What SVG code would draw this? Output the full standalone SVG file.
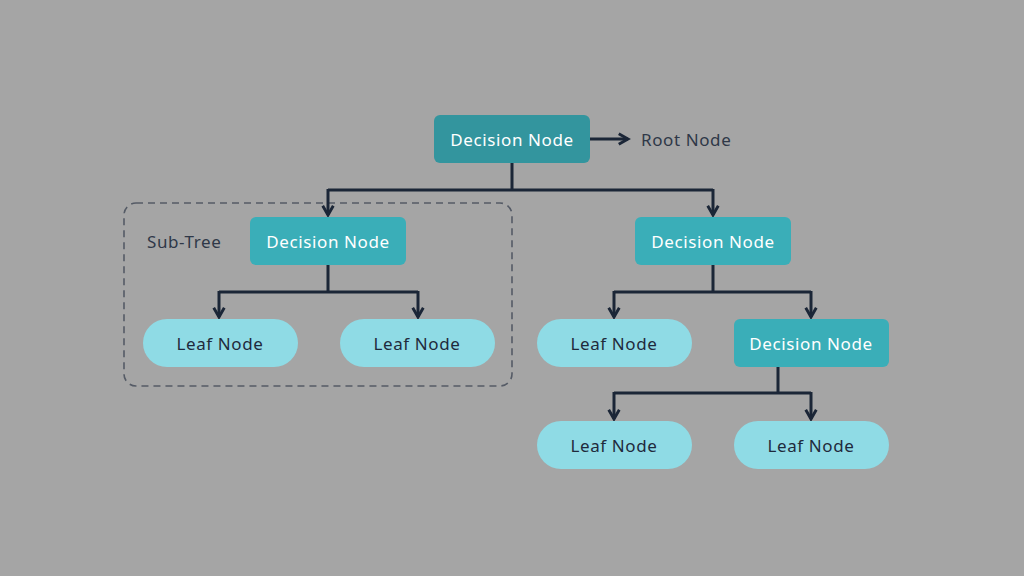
<svg xmlns="http://www.w3.org/2000/svg" width="1024" height="576" viewBox="0 0 1024 576">
<defs>
<style>
.bg{fill:#a5a5a5}
.dec{fill:#3aaeb8}
.root{fill:#33959e}
.leaf{fill:#8fdbe5}
.t{font-family:"Noto Sans","Lato",sans-serif;font-size:17px;letter-spacing:0.6px;text-anchor:middle;dominant-baseline:central}
.tw{fill:#ffffff}
.td{fill:#1f2a3c}
.lbl{font-family:"Noto Sans","Lato",sans-serif;font-size:17px;letter-spacing:0.6px;fill:#2f3848;dominant-baseline:central}
.conn{fill:none;stroke:#1b2637;stroke-width:3}
</style>
<marker id="ah" viewBox="0 0 10 10" refX="8" refY="5" markerWidth="4.4" markerHeight="4.4" orient="auto" markerUnits="strokeWidth">
<path d="M1,1 L8,5 L1,9" fill="none" stroke="#1b2637" stroke-width="2.2"/>
</marker>
</defs>
<rect class="bg" x="0" y="0" width="1024" height="576"/>
<g id="subtree">
<rect x="124" y="203" width="388" height="183" rx="12" fill="none" stroke="#555b66" stroke-width="1.6" stroke-dasharray="7,5"/>
<text class="lbl" x="147" y="241">Sub-Tree</text>
</g>
<g id="connectors">
<path class="conn" d="M512,163 V190 M328,190 H713"/>
<path class="conn" d="M328,189 V215" marker-end="url(#ah)"/>
<path class="conn" d="M713,189 V215" marker-end="url(#ah)"/>
<path class="conn" d="M590,139 H628" marker-end="url(#ah)"/>
<path class="conn" d="M328,265 V292 M219,292 H418"/>
<path class="conn" d="M219,291 V317" marker-end="url(#ah)"/>
<path class="conn" d="M418,291 V317" marker-end="url(#ah)"/>
<path class="conn" d="M713,265 V292 M614,292 H811"/>
<path class="conn" d="M614,291 V317" marker-end="url(#ah)"/>
<path class="conn" d="M811,291 V317" marker-end="url(#ah)"/>
<path class="conn" d="M778,367 V393 M614,393 H811"/>
<path class="conn" d="M614,392 V419" marker-end="url(#ah)"/>
<path class="conn" d="M811,392 V419" marker-end="url(#ah)"/>
</g>
<g id="root-node">
<rect class="root" x="434" y="115" width="156" height="48" rx="6"/>
<text class="t tw" x="512" y="139">Decision Node</text>
</g>
<g id="root-label">
<text class="lbl" x="641" y="139">Root Node</text>
</g>
<g id="decision-left">
<rect class="dec" x="250" y="217" width="156" height="48" rx="6"/>
<text class="t tw" x="328" y="241">Decision Node</text>
</g>
<g id="decision-right">
<rect class="dec" x="635" y="217" width="156" height="48" rx="6"/>
<text class="t tw" x="713" y="241">Decision Node</text>
</g>
<g id="leaf-1">
<rect class="leaf" x="143" y="319" width="155" height="48" rx="24"/>
<text class="t td" x="220" y="343">Leaf Node</text>
</g>
<g id="leaf-2">
<rect class="leaf" x="340" y="319" width="155" height="48" rx="24"/>
<text class="t td" x="417" y="343">Leaf Node</text>
</g>
<g id="leaf-3">
<rect class="leaf" x="537" y="319" width="155" height="48" rx="24"/>
<text class="t td" x="614" y="343">Leaf Node</text>
</g>
<g id="decision-3">
<rect class="dec" x="734" y="319" width="155" height="48" rx="6"/>
<text class="t tw" x="811" y="343">Decision Node</text>
</g>
<g id="leaf-4">
<rect class="leaf" x="537" y="421" width="155" height="48" rx="24"/>
<text class="t td" x="614" y="445">Leaf Node</text>
</g>
<g id="leaf-5">
<rect class="leaf" x="734" y="421" width="155" height="48" rx="24"/>
<text class="t td" x="811" y="445">Leaf Node</text>
</g>
</svg>
